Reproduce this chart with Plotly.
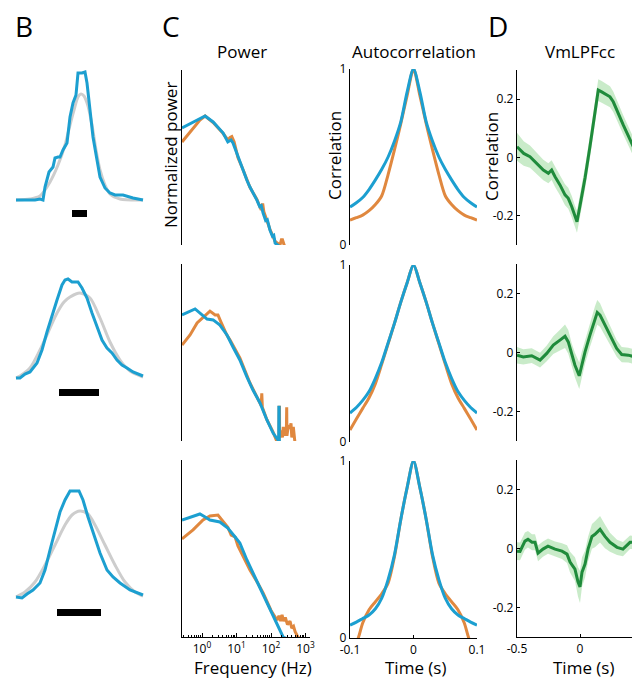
import plotly.graph_objects as go

W, H = 640, 684
# the page places the figure 8 px in from the top-left corner of the window
OFF_X, OFF_Y = 8, 8
BLUE = "#1c9fd0"
ORANGE = "#e0883f"
GRAY = "#cdcdcd"
GREEN = "#1f8b3b"
BAND = "rgba(120,205,120,0.40)"
FONT = "Open Sans"

# ---------------- Panel B: tuning curves (position, response height) ----------------
b1_pos = [16, 35, 40, 43, 45, 49, 53, 55, 58, 60, 63, 67, 70, 73, 76, 78, 82, 85, 87, 90, 93, 97, 100, 105, 110, 115, 123, 133, 143]
b1_resp = [0, 0, 1, 0, 13, 28, 33, 42, 43, 43, 50, 57, 83, 97, 105, 127, 127, 128, 117, 90, 63, 40, 23, 12, 7, 5, 5, 2, 0]
b1_fit_pos = [16, 30, 40, 50, 58, 65, 70, 74, 78, 81, 84, 88, 92, 96, 100, 105, 110, 120, 143]
b1_fit = [0, 1, 4, 18, 35, 55, 75, 90, 103, 106, 104, 94, 75, 50, 30, 15, 6, 1, 0]

b2_pos = [16, 20, 25, 30, 37, 42, 47, 52, 57, 62, 65, 68, 72, 75, 78, 82, 87, 92, 97, 102, 107, 112, 117, 122, 127, 133, 143]
b2_resp = [-1, -1, 3, 5, 14, 27, 45, 62, 77, 92, 97, 98, 95, 95, 95, 89, 79, 64, 50, 37, 29, 24, 17, 12, 9, 5, 1]
b2_fit_pos = [16, 20, 30, 40, 50, 57, 64, 70, 80, 90, 100, 110, 120, 130, 143]
b2_fit = [-1, 1, 9, 27, 49, 64, 75, 80, 84, 79, 59, 35, 17, 6, 0]

b3_pos = [16, 22, 27, 33, 40, 45, 50, 55, 60, 65, 70, 79, 83, 88, 93, 100, 107, 113, 120, 130, 143]
b3_resp = [0, -1, 3, 7, 14, 27, 47, 67, 85, 97, 106, 106, 97, 80, 64, 44, 27, 20, 14, 7, 2]
b3_fit_pos = [16, 25, 35, 45, 55, 65, 72, 80, 88, 95, 105, 115, 125, 135, 143]
b3_fit = [0, 5, 15, 32, 52, 72, 82, 86, 83, 72, 52, 32, 15, 5, 1]

# scale bars: start, end, lower, upper (same units as the curves)
bar_start = [72, 59, 57]
bar_end = [87, 99, 101]
bar_low = [-17, -19, -19]
bar_high = [-10, -12, -12]

# ---------------- Panel C: power spectra (Hz, normalized log power) ----------------
p1_blue_f = [0.263, 1.23, 2.1, 4.1, 5.6, 6.9, 7.9, 11, 15.5, 20, 24.5, 30, 39, 47, 52, 59, 70, 78, 93, 110, 120, 132, 150, 182]
p1_blue = [0.669, 0.737, 0.703, 0.64, 0.589, 0.60, 0.583, 0.503, 0.429, 0.37, 0.331, 0.30, 0.257, 0.22, 0.225, 0.183, 0.14, 0.145, 0.086, 0.05, 0.055, 0.011, 0.0, -0.01]
p1_orng_f = [0.263, 0.45, 0.87, 1.23, 2.1, 4.0, 5.6, 6.5, 7.3, 8.5, 11, 15.5, 24.5, 39, 52, 56, 58, 62, 93, 132, 182, 200, 215, 240, 257]
p1_orng = [0.589, 0.646, 0.714, 0.737, 0.70, 0.64, 0.60, 0.615, 0.62, 0.59, 0.50, 0.43, 0.33, 0.26, 0.20, 0.23, 0.23, 0.19, 0.09, 0.02, 0.0, 0.03, 0.03, 0.0, -0.01]

p2_blue_f = [0.263, 0.63, 1.4, 2.1, 3.3, 5.3, 7.9, 12.5, 20, 30, 48, 76, 115, 149, 167, 169, 172, 174, 185]
p2_blue = [0.712, 0.746, 0.689, 0.684, 0.655, 0.599, 0.531, 0.458, 0.362, 0.288, 0.215, 0.119, 0.045, 0.01, 0.0, 0.19, 0.19, 0.0, -0.01]
p2_orng_f = [0.263, 0.45, 0.72, 1.23, 1.7, 2.4, 2.9, 3.55, 5.2, 6.5, 12.5, 24.5, 40, 52, 54, 56, 76, 115, 146, 170, 172, 176, 178, 200, 215, 227, 245, 270, 278, 282, 285, 289, 320, 355, 380, 400, 443, 470, 495]
p2_orng = [0.542, 0.599, 0.667, 0.712, 0.734, 0.712, 0.712, 0.672, 0.60, 0.571, 0.469, 0.328, 0.25, 0.20, 0.27, 0.19, 0.12, 0.05, 0.0, 0.0, 0.19, 0.19, 0.02, 0.06, 0.02, 0.08, 0.03, 0.06, 0.04, 0.19, 0.19, 0.03, 0.09, 0.07, 0.10, 0.02, 0.08, 0.0, -0.01]

p3_blue_f = [0.263, 0.87, 1.23, 1.7, 3.3, 5.6, 9.1, 12.5, 20, 30, 48, 76, 115, 182, 224, 290]
p3_blue = [0.661, 0.695, 0.678, 0.661, 0.65, 0.616, 0.565, 0.531, 0.435, 0.362, 0.282, 0.198, 0.124, 0.040, 0.0, -0.01]
p3_orng_f = [0.263, 0.55, 1.07, 1.7, 2.9, 3.8, 5.6, 7.0, 9.1, 11, 24.5, 40, 59, 100, 149, 170, 190, 209, 230, 260, 300, 355, 400, 450, 500, 600, 690]
p3_orng = [0.554, 0.605, 0.661, 0.684, 0.689, 0.661, 0.62, 0.575, 0.565, 0.514, 0.379, 0.31, 0.249, 0.15, 0.096, 0.12, 0.09, 0.125, 0.09, 0.11, 0.07, 0.09, 0.05, 0.06, 0.03, 0.0, -0.01]

freq_ticks = [1, 10, 100, 1000]
freq_labels = ["10<sup>0</sup>", "10<sup>1</sup>", "10<sup>2</sup>", "10<sup>3</sup>"]

# ---------------- Autocorrelation (s, correlation) ----------------
ac_lag = [-0.1, -0.09, -0.08, -0.07, -0.06, -0.05, -0.04, -0.03, -0.02, -0.01, 0, 0.01, 0.02, 0.03, 0.04, 0.05, 0.06, 0.07, 0.08, 0.09, 0.1]
ac1_blue = [0.216, 0.24, 0.27, 0.315, 0.37, 0.43, 0.50, 0.59, 0.70, 0.87, 1.0, 0.87, 0.70, 0.59, 0.50, 0.43, 0.37, 0.315, 0.27, 0.24, 0.216]
ac1_orng = [0.142, 0.155, 0.17, 0.195, 0.23, 0.28, 0.40, 0.54, 0.69, 0.85, 1.0, 0.85, 0.69, 0.54, 0.40, 0.28, 0.23, 0.195, 0.17, 0.155, 0.142]
ac2_blue = [0.164, 0.195, 0.235, 0.285, 0.36, 0.45, 0.56, 0.67, 0.79, 0.90, 1.0, 0.90, 0.79, 0.67, 0.56, 0.45, 0.36, 0.285, 0.235, 0.195, 0.164]
ac2_orng = [0.068, 0.13, 0.19, 0.25, 0.33, 0.44, 0.555, 0.67, 0.79, 0.90, 1.0, 0.90, 0.79, 0.67, 0.555, 0.44, 0.33, 0.25, 0.19, 0.13, 0.068]
ac3_blue = [0.073, 0.09, 0.11, 0.13, 0.165, 0.225, 0.33, 0.47, 0.67, 0.85, 1.0, 0.85, 0.67, 0.47, 0.33, 0.225, 0.165, 0.13, 0.11, 0.09, 0.073]
ac3_orng_lag = [-0.095, -0.087, -0.08, -0.07, -0.06, -0.05, -0.04, -0.03, -0.02, -0.01, 0, 0.01, 0.02, 0.03, 0.04, 0.05, 0.06, 0.07, 0.08, 0.087, 0.095]
ac3_orng = [-0.06, 0.0, 0.085, 0.16, 0.205, 0.25, 0.31, 0.46, 0.67, 0.85, 1.0, 0.85, 0.67, 0.46, 0.31, 0.25, 0.205, 0.16, 0.085, 0.0, -0.06]

# ---------------- Panel D: VmLPFcc (s, mean correlation, sem) ----------------
d1_t = [-0.5, -0.447, -0.397, -0.344, -0.291, -0.251, -0.225, -0.198, -0.159, -0.119, -0.093, -0.066, -0.04, -0.024, 0.0, 0.04, 0.08, 0.12, 0.145, 0.172, 0.212, 0.238, 0.264, 0.291, 0.344, 0.423, 0.476, 0.5]
d1_cc = [0.037, 0.014, 0.003, -0.02, -0.043, -0.054, -0.043, -0.066, -0.094, -0.128, -0.14, -0.168, -0.202, -0.22, -0.165, -0.07, 0.04, 0.16, 0.231, 0.225, 0.214, 0.208, 0.191, 0.162, 0.111, 0.037, -0.012, -0.02]
d1_sem = [0.048, 0.042, 0.038, 0.036, 0.035, 0.034, 0.034, 0.035, 0.035, 0.036, 0.036, 0.037, 0.037, 0.038, 0.038, 0.038, 0.038, 0.038, 0.037, 0.037, 0.036, 0.036, 0.035, 0.034, 0.033, 0.032, 0.032, 0.032]

d2_t = [-0.5, -0.45, -0.383, -0.317, -0.264, -0.212, -0.159, -0.119, -0.093, -0.066, -0.04, -0.006, 0.013, 0.04, 0.079, 0.119, 0.137, 0.159, 0.185, 0.238, 0.291, 0.331, 0.383, 0.437, 0.476, 0.5]
d2_cc = [-0.009, -0.015, -0.011, -0.026, -0.003, 0.025, 0.042, 0.055, 0.036, -0.009, -0.043, -0.079, -0.043, 0.002, 0.059, 0.115, 0.136, 0.127, 0.104, 0.059, 0.014, -0.007, -0.009, -0.015, -0.02, -0.022]
d2_sem = [0.028, 0.026, 0.025, 0.025, 0.027, 0.03, 0.035, 0.04, 0.04, 0.04, 0.042, 0.045, 0.044, 0.04, 0.04, 0.042, 0.042, 0.04, 0.037, 0.032, 0.028, 0.026, 0.025, 0.025, 0.025, 0.025]

d3_t = [-0.5, -0.476, -0.437, -0.413, -0.381, -0.357, -0.333, -0.294, -0.254, -0.198, -0.143, -0.103, -0.079, -0.04, -0.016, 0.0, 0.016, 0.04, 0.064, 0.095, 0.119, 0.159, 0.198, 0.238, 0.294, 0.341, 0.397, 0.437, 0.476, 0.5]
d3_cc = [-0.009, -0.01, 0.025, 0.031, 0.021, 0.021, -0.016, -0.002, 0.008, -0.002, -0.009, -0.019, -0.046, -0.07, -0.113, -0.13, -0.08, -0.053, -0.002, 0.041, 0.048, 0.065, 0.041, 0.021, 0.004, -0.002, 0.021, 0.021, 0.025, 0.02]
d3_sem = [0.03, 0.03, 0.029, 0.028, 0.027, 0.027, 0.027, 0.026, 0.026, 0.026, 0.027, 0.03, 0.035, 0.04, 0.05, 0.055, 0.05, 0.045, 0.042, 0.042, 0.044, 0.045, 0.04, 0.032, 0.026, 0.024, 0.023, 0.022, 0.022, 0.022]

# ---------------- layout helpers (window pixels) ----------------
col_x = {"B": (10, 150), "P": (182, 310), "A": (350, 477), "D": (517, 643)}
row_y = {
    "B": [(60, 220), (260, 400), (470, 620)],
    "P": [(70, 245), (264, 441), (460, 637)],
    "A": [(69, 245), (265, 442), (461, 638)],
    "D": [(70, 245), (264, 441), (460, 637)],
}
b_yrange = [[-20, 140], [-23, 117], [-23, 127]]

fig = go.Figure()
layout = dict(width=W, height=H, autosize=False,
              margin=dict(l=0, r=0, t=0, b=0, pad=0, autoexpand=False),
              paper_bgcolor="white", plot_bgcolor="rgba(0,0,0,0)",
              showlegend=False, font=dict(family=FONT, color="black", size=12))
shapes = []
annotations = []


def suffix(k):
    return "" if k == 1 else str(k)


def fx(px):
    return (px - OFF_X) / W


def fy(py):
    return 1 - (py - OFF_Y) / H


def xd(c):
    a, b = col_x[c]
    return [fx(a), min(fx(b), 1.0)]


def yd(c, r):
    top, bot = row_y[c][r]
    return [fy(bot), fy(top)]


tickfont = dict(family=FONT, size=12, color="black")
cols = ["B", "P", "A", "D"]
for r in range(3):
    for ci, c in enumerate(cols):
        k = r * 4 + ci + 1
        s = suffix(k)
        xa = dict(domain=xd(c), anchor="y" + s, showgrid=False, zeroline=False,
                  fixedrange=True, automargin=False)
        ya = dict(domain=yd(c, r), anchor="x" + s, showgrid=False, zeroline=False,
                  fixedrange=True, automargin=False)
        if c == "B":
            xa.update(range=[10, 150], visible=False)
            ya.update(range=b_yrange[r], visible=False)
        elif c == "P":
            xa.update(type="log", range=[-0.58, 3.13])
            ya.update(range=[0, 1], showline=True, linecolor="black", linewidth=1.3,
                      showticklabels=False, ticks="")
            if r == 2:
                xa.update(showline=True, linecolor="black", linewidth=1.3, ticks="inside",
                          ticklen=4, tickcolor="black", tickvals=freq_ticks, ticktext=freq_labels,
                          tickfont=tickfont,
                          minor=dict(ticks="inside", ticklen=2, tickcolor="black",
                                     tickvals=[m * 10 ** e for e in range(-1, 3) for m in range(2, 10)]))
            else:
                xa.update(visible=False)
        elif c == "A":
            xa.update(range=[-0.1, 0.1])
            ya.update(range=[0, 1], showline=True, linecolor="black", linewidth=1.3,
                      ticks="inside", ticklen=3, tickcolor="black", tickvals=[0, 1],
                      ticktext=["0", "1"], tickfont=tickfont)
            if r == 2:
                xa.update(showline=True, linecolor="black", linewidth=1.3, ticks="inside",
                          ticklen=3, tickcolor="black", tickvals=[-0.1, 0, 0.1],
                          ticktext=["-0.1", "0", "0.1"], tickfont=tickfont)
            else:
                xa.update(visible=False)
        else:
            xa.update(range=[-0.5, 0.5])
            ya.update(range=[-0.3, 0.3], showline=True, linecolor="black", linewidth=1.3,
                      ticks="inside", ticklen=3, tickcolor="black", tickvals=[-0.2, 0, 0.2],
                      ticktext=["-0.2", "0", "0.2"], tickfont=tickfont)
            if r == 2:
                xa.update(showline=True, linecolor="black", linewidth=1.3, ticks="inside",
                          ticklen=3, tickcolor="black", tickvals=[-0.5, 0],
                          ticktext=["-0.5", "0"], tickfont=tickfont)
            else:
                xa.update(visible=False)
        layout["xaxis" + s] = xa
        layout["yaxis" + s] = ya


def add(k, x, y, color, width=3, shape="linear", **kw):
    s = suffix(k)
    fig.add_trace(go.Scatter(x=x, y=y, mode="lines", xaxis="x" + s, yaxis="y" + s,
                             line=dict(color=color, width=width, shape=shape, smoothing=0.8),
                             hoverinfo="skip", **kw))


# Panel B
b_sets = [(b1_pos, b1_resp, b1_fit_pos, b1_fit), (b2_pos, b2_resp, b2_fit_pos, b2_fit),
          (b3_pos, b3_resp, b3_fit_pos, b3_fit)]
for r, (px_, py_, fx_, fy_) in enumerate(b_sets):
    k = r * 4 + 1
    add(k, fx_, fy_, GRAY, 3, "spline")
    add(k, px_, py_, BLUE, 3, "linear")
    s = suffix(k)
    shapes.append(dict(type="rect", xref="x" + s, yref="y" + s, x0=bar_start[r], x1=bar_end[r],
                       y0=bar_low[r], y1=bar_high[r], fillcolor="black", line=dict(width=0)))

# Panel C power
p_sets = [(p1_blue_f, p1_blue, p1_orng_f, p1_orng), (p2_blue_f, p2_blue, p2_orng_f, p2_orng),
          (p3_blue_f, p3_blue, p3_orng_f, p3_orng)]
for r, (bf, bv, of, ov) in enumerate(p_sets):
    k = r * 4 + 2
    add(k, of, ov, ORANGE, 3)
    add(k, bf, bv, BLUE, 3)

# Autocorrelation
a_sets = [(ac_lag, ac1_blue, ac_lag, ac1_orng), (ac_lag, ac2_blue, ac_lag, ac2_orng),
          (ac_lag, ac3_blue, ac3_orng_lag, ac3_orng)]
for r, (bt, bv, ot, ov) in enumerate(a_sets):
    k = r * 4 + 3
    add(k, ot, ov, ORANGE, 3, "spline")
    add(k, bt, bv, BLUE, 3, "spline")

# Panel D
d_sets = [(d1_t, d1_cc, d1_sem), (d2_t, d2_cc, d2_sem), (d3_t, d3_cc, d3_sem)]
for r, (t, cc, se) in enumerate(d_sets):
    k = r * 4 + 4
    s = suffix(k)
    upper = [m + e for m, e in zip(cc, se)]
    lower = [m - e for m, e in zip(cc, se)]
    fig.add_trace(go.Scatter(x=t, y=upper, mode="lines", line=dict(width=0), xaxis="x" + s,
                             yaxis="y" + s, hoverinfo="skip"))
    fig.add_trace(go.Scatter(x=t, y=lower, mode="lines", line=dict(width=0), fill="tonexty",
                             fillcolor=BAND, xaxis="x" + s, yaxis="y" + s, hoverinfo="skip"))
    add(k, t, cc, GREEN, 3)


def text(x, y, s, size, angle=0, xanchor="center"):
    annotations.append(dict(x=fx(x), y=fy(y), xref="paper", yref="paper", text=s,
                            showarrow=False, textangle=angle, xanchor=xanchor, yanchor="middle",
                            font=dict(family=FONT, size=size, color="black")))


text(13, 26, "B", 28, xanchor="left")
text(160, 26, "C", 28, xanchor="left")
text(486, 26, "D", 28, xanchor="left")
text(242, 51, "Power", 17)
text(414, 51, "Autocorrelation", 17)
text(580, 51, "VmLPFcc", 17)
text(170, 155, "Normalized power", 17, angle=-90)
text(335, 156, "Correlation", 17, angle=-90)
text(492, 157, "Correlation", 17, angle=-90)
text(253, 667, "Frequency (Hz)", 17)
text(415, 667, "Time (s)", 17)
text(583, 667, "Time (s)", 17)

layout["shapes"] = shapes
layout["annotations"] = annotations
fig.update_layout(**layout)
fig.write_html("out.html")
